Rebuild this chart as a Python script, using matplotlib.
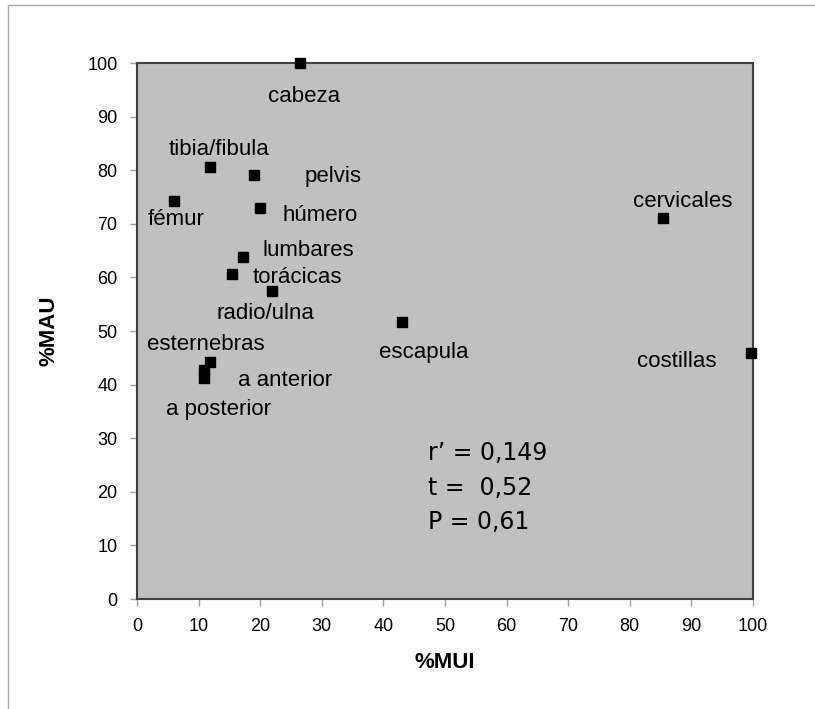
import matplotlib
matplotlib.use("Agg")
import matplotlib.pyplot as plt
from matplotlib.patches import Rectangle

plt.rcParams['font.family'] = ['Liberation Sans', 'DejaVu Sans']

labels = ["cabeza", "tibia/fibula", "pelvis", "fémur", "húmero", "lumbares",
          "torácicas", "radio/ulna", "esternebras", "a anterior", "a posterior",
          "escapula", "cervicales", "costillas"]
mui = [26.5, 11.9, 19.0, 6.0, 20.0, 17.2, 15.4, 21.9, 11.9, 10.9, 10.9, 43.0, 85.4, 99.7]
mau = [100.0, 80.6, 79.1, 74.3, 73.0, 63.8, 60.6, 57.5, 44.2, 42.7, 41.2, 51.7, 71.1, 45.9]
ticks = list(range(0, 101, 10))
stats = ["r\u2019 = 0,149", "t =  0,52", "P = 0,61"]

# label offsets in pixels (dx, dy) - layout only
offsets = [(4, -33), (9, 17), (79, -1), (2, -19), (60, -8), (65, 7), (66, -3),
           (-6, -23), (-4, 18), (81, -10), (14, -31), (22, -31), (20, 16), (-74, -9)]

fig = plt.figure(figsize=(8.15, 7.09), dpi=100)
fig.patches.append(Rectangle((8/815, -0.1), 1.2, (1 - 5/709) + 0.1, transform=fig.transFigure,
                             fill=False, edgecolor='#a8a8a8', linewidth=1))
ax = fig.add_axes([137/815, 1 - 599/709, (753 - 137)/815, (599 - 63)/709])
ax.set_facecolor('#c0c0c0')
ax.set_xlim(0, 100)
ax.set_ylim(0, 100)
ax.set_xticks(ticks)
ax.set_yticks(ticks)
ax.tick_params(direction='out', length=5, width=1, color='#a0a0a0', labelsize=13, pad=9)
for s in ax.spines.values():
    s.set_color('#404040')
    s.set_linewidth(1.5)

ax.plot(mui, mau, linestyle='none', marker='s', markersize=7.5, color='black', clip_on=False, zorder=5)
for lab, x, y, (dx, dy) in zip(labels, mui, mau, offsets):
    ax.annotate(lab, (x, y), xytext=(dx, dy), textcoords='offset pixels',
                ha='center', va='center', fontsize=16, color='black')

for i, s in enumerate(stats):
    ax.text(428, 709 - 453 - i * 34.5, s, transform=None, fontsize=17,
            family=['DejaVu Sans'], ha='left', va='center')

ax.set_xlabel('%MUI', fontsize=16, fontweight='bold', labelpad=12)
ax.set_ylabel('%MAU', fontsize=16, fontweight='bold', labelpad=20)

fig.savefig('out.png', dpi=100)
